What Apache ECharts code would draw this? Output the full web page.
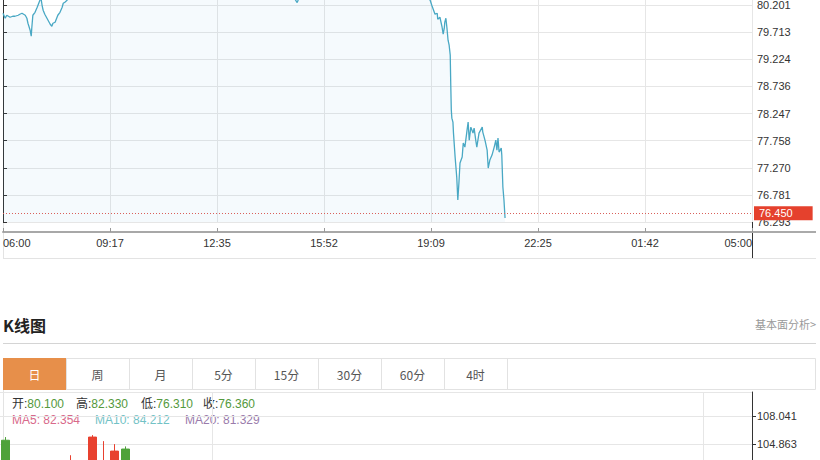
<!DOCTYPE html>
<html><head><meta charset="utf-8">
<script src="https://cdn.jsdelivr.net/npm/echarts@6/dist/echarts.min.js"></script>
<style>html,body{margin:0;padding:0;background:#fff}#c{width:820px;height:460px}</style>
</head><body><div id="c"></div>
<script>
// ---------- intraday (分时) data ----------
const timeLabels = ['06:00','09:17','12:35','15:52','19:09','22:25','01:42','05:00'];
// minutes after 06:00
const minutes = [0,4,7,13,18,22,28,31,35,41,44,46,50,52,53,55,59,63,68,70,72,74,77,81,87,90,92,96,101,105,109,111,114,118,
  125,140,160,185,210,240,265,290,320,350,380,410,440,470,500,525,538,542,546,560,590,620,650,680,710,740,765,780,
  787,790,792,796,800,801,805,809,811,813,814,816,818,820,822,824,825,826,827,829,830,833,836,838,840,842,846,848,851,855,857,859,862,866,868,871,873,877,883,884,888,892,894,897,901,905,908,910,912,914,918,919,921,923,925];
const prices = [80.057,79.967,80.021,79.985,80.003,80.003,80.021,80.039,80.057,80.021,79.967,79.877,79.751,79.643,79.787,80.021,80.075,80.165,80.291,80.327,80.201,80.111,80.039,79.967,79.859,79.823,79.877,79.895,80.021,80.075,80.165,80.237,80.255,80.291,
  80.45,80.72,80.95,81.30,81.62,81.95,82.33,82.05,81.70,81.40,81.15,80.95,80.80,80.66,80.52,80.40,80.31,80.25,80.35,80.55,80.78,80.95,81.10,81.05,80.90,80.72,80.55,80.40,
  80.291,80.201,80.147,80.039,80.057,79.949,79.985,79.805,79.679,79.787,79.895,79.967,79.787,79.571,79.481,79.301,78.761,78.310,78.166,78.094,77.896,77.464,77.103,76.689,76.995,77.356,77.464,77.716,77.644,77.950,78.094,77.770,78.004,77.896,77.986,77.770,77.644,77.896,78.004,77.914,77.770,77.590,77.266,77.410,77.500,77.644,77.770,77.590,77.806,77.554,77.626,77.500,76.923,76.689,76.365];
const lastPrice = 76.450;
const yTickLabels = ['76.293','76.781','77.270','77.758','78.247','78.736','79.224','79.713','80.201'];

// ---------- daily K-line data ----------
const kDates = ('08-29,08-30,08-31,09-01,09-02,09-05,09-06,09-07,09-08,09-09,09-12,09-13,09-14,09-15,09-16,09-19,09-20,09-21,09-22,09-23,09-26,09-27,09-28,09-29,09-30,10-03,10-04,10-05,10-06,10-07,10-10,10-11,10-12,10-13,10-14,10-17,10-18,10-19,10-20,10-21,10-24,10-25,10-26,10-27,10-28,10-31,11-01,11-02,11-03,11-04,11-07,11-08,11-09,11-10,11-11,11-14,11-15,11-16,11-17,11-18,11-21,11-22,11-23,11-24,11-25,11-28,11-29,11-30,12-01').split(',');
const kOpen = [105.30,102.40,101.30,102.00,101.00,101.70,100.80,102.60,102.00,101.80,102.30,104.30,102.0,101.5,100.9,101.7,100.1,98.8,99.3,97.7,96.6,97.0,95.5,94.2,94.8,93.3,92.4,93.5,91.9,90.5,91.1,89.8,88.4,89.0,87.7,86.3,86.8,85.5,84.6,85.7,84.2,83.1,83.8,82.6,81.6,82.3,81.2,80.4,80.9,80.5,79.7,79.0,78.3,77.5,77.2,77.8,78.4,77.9,78.5,80.3,83.6,85.1,87.2,87.8,86.7,86.1,85.1,84.0,80.10];
const kClose = [102.50,101.20,102.10,100.90,101.80,100.60,102.70,101.90,105.66,103.00,104.07,102.10,101.6,100.8,101.9,100.2,98.7,99.4,97.8,96.5,97.2,95.4,94.1,94.9,93.2,92.5,93.6,91.8,90.4,91.2,89.7,88.3,89.1,87.6,86.2,86.9,85.4,84.7,85.8,84.1,83.2,83.9,82.5,81.7,82.4,81.1,80.3,81.0,80.4,79.8,78.9,78.2,77.6,77.1,77.9,78.3,77.8,78.6,80.26,83.5,85.2,87.1,87.9,86.65,86.2,85.0,84.01,80.2,76.36];
const kLow = [101.90,100.60,100.90,100.30,100.50,99.90,100.40,101.20,101.70,101.30,101.90,101.60,100.9,100.2,100.5,99.8,98.2,98.3,97.4,96.0,96.1,95.0,93.6,93.8,92.7,91.9,92.0,91.3,89.9,90.0,89.2,87.8,88.0,87.1,85.7,85.8,85.0,84.1,84.2,83.6,82.7,82.8,82.0,81.2,81.3,80.6,79.8,80.0,79.9,79.3,78.4,77.7,77.1,76.6,76.9,77.4,77.3,77.5,78.2,80.0,83.1,84.8,86.5,86.1,85.6,84.5,83.5,79.8,76.31];
const kHigh = [105.66,103.00,102.80,102.60,102.40,102.20,103.60,102.90,105.88,105.20,104.86,104.60,102.7,102.1,102.4,102.0,100.6,100.0,99.7,98.2,97.9,97.5,95.9,95.6,95.1,93.8,94.2,93.9,92.3,91.8,91.5,90.2,89.7,89.4,88.0,87.5,87.2,86.0,86.3,86.0,84.6,84.5,84.1,83.0,82.9,82.7,81.6,81.5,81.3,80.9,80.1,79.4,78.7,78.0,78.4,78.8,78.9,79.1,80.7,83.9,85.7,87.6,88.6,88.3,87.4,86.6,85.7,84.3,82.33];
const kTickLabels = ['104.863','108.041'];
const kGridDates = ['09-23','11-25'];

const tabs = ['日','周','月','5分','15分','30分','60分','4时'];
const quoteNames = ['开:','高:','低:','收:'];
const quoteValues = ['80.100','82.330','76.310','76.360'];
const maNames = ['MA5:','MA10:','MA20:'];
const maValues = ['82.354','84.212','81.329'];

// ---------- build ----------
const LAT = '"Liberation Sans", Arial, sans-serif';
const CJK = '"Liberation Sans","Noto Sans CJK SC", sans-serif';
const GRID = '#e6e6e6';
const xInt = 1380 / 7 + 1e-9;
const topInt = 76.293 / 156;
const kInt = 3.178;
function nearest(list, tol) {
  return function (v) {
    let best = '', d = Infinity;
    for (const s of list) { const dd = Math.abs(parseFloat(s) - v); if (dd < d) { d = dd; best = s; } }
    return d < tol ? best : '';
  };
}
const lineData = minutes.map((m, i) => [m, prices[i]]);
const kData = kOpen.map((o, i) => [o, kClose[i], kLow[i], kHigh[i]]);

const graphic = [];
function line(x1, y1, x2, y2, stroke, w) {
  graphic.push({ type: 'line', silent: true, shape: { x1, y1, x2, y2 }, style: { stroke, lineWidth: w || 1 } });
}
function text(x, y, str, font, fill, align) {
  graphic.push({ type: 'text', silent: true, x, y, style: { text: str, font, fill, align: align || 'left', textAlign: align || 'left', verticalAlign: 'middle', textVerticalAlign: 'middle' } });
}
// top chart frame
line(3.5, 0, 3.5, 258, '#e3e3e3');
line(3, 258.5, 816, 258.5, '#e3e3e3');
line(752.5, 222, 752.5, 258, '#333');
line(752, 232, 816, 232, '#aaa', 2);
// K线图 header
text(3, 325, 'K线图', 'bold 16px "Noto Sans CJK SC", sans-serif', '#222');
text(816, 324, '基本面分析>', '11px "Noto Sans CJK SC", sans-serif', '#999', 'right');
line(3, 343.5, 816, 343.5, '#d4d4d4');
// tabs
graphic.push({ type: 'rect', silent: true, shape: { x: 3.5, y: 358.5, width: 812, height: 31 }, style: { fill: '#fff', stroke: '#e2e2e2' } });
graphic.push({ type: 'rect', silent: true, shape: { x: 3, y: 358, width: 63, height: 32 }, style: { fill: '#e78f4a' } });
tabs.forEach((t, i) => {
  line(66.5 + 63 * i, 358, 66.5 + 63 * i, 390, '#e2e2e2');
  text(34.5 + 63 * i, 374, t, '12px "Noto Sans CJK SC", sans-serif', i === 0 ? '#fff' : '#555', 'center');
});
// K chart frame
line(3.5, 390, 3.5, 460, '#e3e3e3');
// quote line
const qx = [12, 76, 141, 203];
quoteNames.forEach((n, i) => {
  graphic.push({ type: 'text', silent: true, x: qx[i], y: 404, style: {
    text: '{a|' + n + '}{b|' + quoteValues[i] + '}', font: '12px ' + CJK, verticalAlign: 'middle', textVerticalAlign: 'middle',
    rich: { a: { fill: '#333', font: '12px ' + CJK }, b: { fill: '#54993c', font: '12px ' + CJK } } } });
});
const mx = [12, 95, 185], mc = ['#d8698a', '#72c2c6', '#9a7bab'];
maNames.forEach((n, i) => text(mx[i], 420, n + ' ' + maValues[i], '12px ' + LAT, mc[i]));

const option = {
  animation: false,
  backgroundColor: '#fff',
  grid: [
    { left: 3, right: 68, top: -30, bottom: 238, containLabel: false, outerBoundsMode: 'none' },
    { left: 0, right: 68, top: 392, bottom: -236, containLabel: false, outerBoundsMode: 'none' }
  ],
  xAxis: [
    { gridIndex: 0, type: 'value', min: 0, max: 1380, interval: xInt, offset: 10,
      axisLine: { show: true, lineStyle: { color: '#a8a8a8', width: 2 } },
      axisTick: { show: true, inside: true, length: 4, lineStyle: { color: '#999' } },
      axisLabel: { show: true, color: '#333', fontSize: 11, fontFamily: LAT, margin: 5, alignMinLabel: 'left', alignMaxLabel: 'right',
        formatter: v => timeLabels[Math.round(v / xInt)] || '' },
      splitLine: { show: true, lineStyle: { color: GRID } } },
    { gridIndex: 1, type: 'category', data: kDates, boundaryGap: true,
      axisLine: { show: false }, axisTick: { show: false }, axisLabel: { show: false }, splitLine: { show: false } }
  ],
  yAxis: [
    { gridIndex: 0, type: 'value', position: 'right', min: 76.293, max: 80.837, interval: topInt, scale: true,
      axisLine: { show: true, lineStyle: { color: '#333' } },
      axisTick: { show: true, length: 4, lineStyle: { color: '#333' } },
      axisLabel: { show: true, color: '#333', fontSize: 11, fontFamily: LAT, margin: 5, showMaxLabel: false, formatter: nearest(yTickLabels, 0.05) },
      splitLine: { show: true, lineStyle: { color: GRID } } },
    { gridIndex: 1, type: 'value', position: 'right', min: 76.272, max: 110.776, interval: kInt, scale: true,
      axisLine: { show: true, lineStyle: { color: '#333' } },
      axisTick: { show: true, length: 4, lineStyle: { color: '#333' } },
      axisLabel: { show: true, color: '#333', fontSize: 11, fontFamily: LAT, margin: 5, showMaxLabel: false, formatter: nearest(kTickLabels, 0.05) },
      splitLine: { show: true, lineStyle: { color: GRID } } }
  ],
  series: [
    { type: 'line', xAxisIndex: 0, yAxisIndex: 0, data: lineData, showSymbol: false, symbol: 'none', clip: true,
      lineStyle: { color: '#49a8c4', width: 1.3 }, areaStyle: { color: 'rgba(79,170,210,0.08)' },
      markLine: { symbol: 'none', silent: true, animation: false,
        lineStyle: { color: '#d9605a', type: [1, 2], width: 1 },
        label: { show: true, position: 'end', distance: 2, formatter: lastPrice.toFixed(3), color: '#fff', backgroundColor: '#e5412d',
          padding: [2, 20, 1, 5], fontSize: 11, fontFamily: LAT },
        emphasis: { disabled: true },
        data: [{ yAxis: lastPrice }] } },
    { type: 'candlestick', xAxisIndex: 1, yAxisIndex: 1, data: kData, barWidth: 8, clip: true,
      itemStyle: { color: '#e8412f', color0: '#4ea23a', borderColor: '#e8412f', borderColor0: '#4ea23a', borderWidth: 1 },
      markLine: { symbol: 'none', silent: true, animation: false, label: { show: false },
        lineStyle: { color: GRID, type: 'solid', width: 1 }, emphasis: { disabled: true },
        data: kGridDates.map(d => ({ xAxis: d })) } }
  ],
  graphic: graphic
};
const chart = echarts.init(document.getElementById('c'), null, { renderer: 'svg', width: 820, height: 460 });
chart.setOption(option);
</script>
</body></html>
